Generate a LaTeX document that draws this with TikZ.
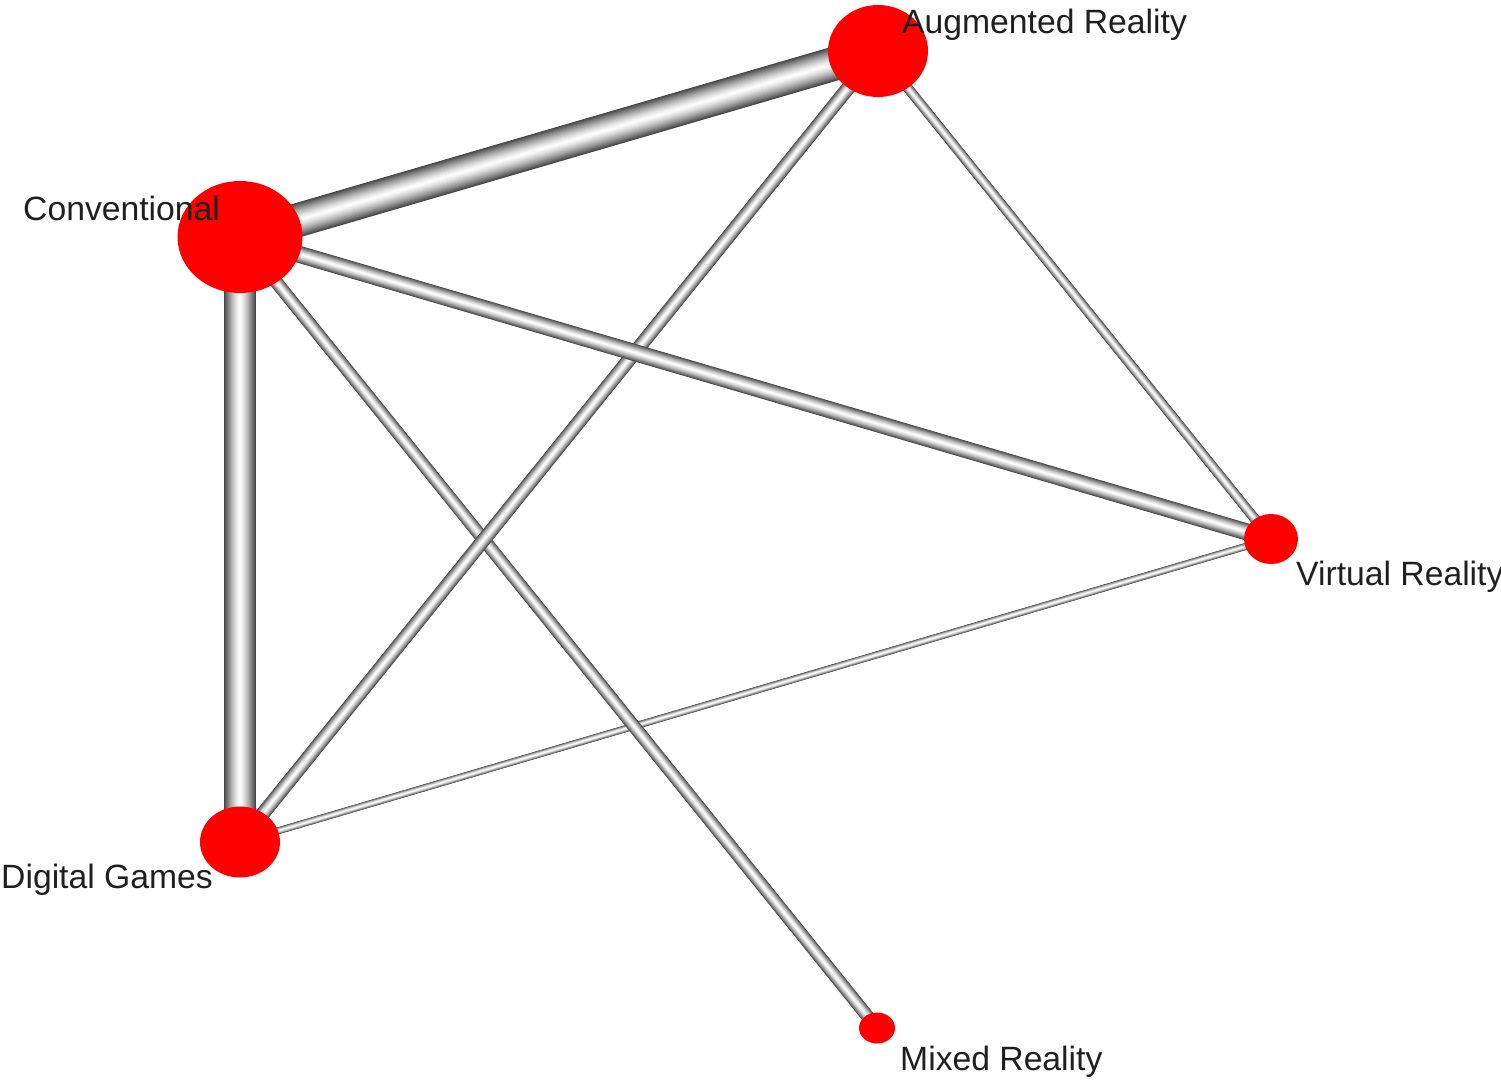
\documentclass[tikz,border=0pt]{standalone}
\usepackage{fontspec}
\setmainfont{Liberation Sans}
\usetikzlibrary{shapes.geometric,backgrounds}
\newcommand{\tubeedge}[3]{%
  \foreach \k in {0,...,15}{%
    \pgfmathsetmacro\fr{1-\k/16}%
    \pgfmathsetmacro\lw{#3*\fr}%
    \pgfmathsetmacro\dk{72*\fr^1.4}%
    \draw[line width=\lw pt, draw=black!\dk] (#1.center) -- (#2.center);
  }%
}
\begin{document}
\begin{tikzpicture}[x=1pt,y=-1pt,
  vertex/.style={ellipse, fill=red, draw=none, inner sep=0pt},
  lbl/.style={anchor=base west, inner sep=0pt, text=black!88,
    font=\fontsize{33.7}{40}\selectfont}]
\useasboundingbox (0,0) rectangle (1501,1084);
% nodes
\node[vertex, minimum width=125pt, minimum height=112pt] (conv) at (240,237) {};
\node[vertex, minimum width=100pt, minimum height=92pt] (ar) at (878,51) {};
\node[vertex, minimum width=54pt, minimum height=50pt] (vr) at (1271,539) {};
\node[vertex, minimum width=80pt, minimum height=71pt] (dg) at (240,842) {};
\node[vertex, minimum width=36pt, minimum height=31pt] (mr) at (877,1028) {};
% edges
\begin{scope}[on background layer]
  \tubeedge{dg}{vr}{7}
  \tubeedge{ar}{vr}{10}
  \tubeedge{conv}{mr}{13}
  \tubeedge{ar}{dg}{14}
  \tubeedge{conv}{vr}{17}
  \tubeedge{conv}{dg}{32}
  \tubeedge{conv}{ar}{34}
\end{scope}
% labels
\node[lbl] (lconv) at (23,220) {Conventional};
\node[lbl] (lar) at (902,33) {Augmented Reality};
\node[lbl] (lvr) at (1296,585) {Virtual Reality};
\node[lbl] (ldg) at (1,888) {Digital Games};
\node[lbl] (lmr) at (900,1070) {Mixed Reality};
\end{tikzpicture}
\end{document}
